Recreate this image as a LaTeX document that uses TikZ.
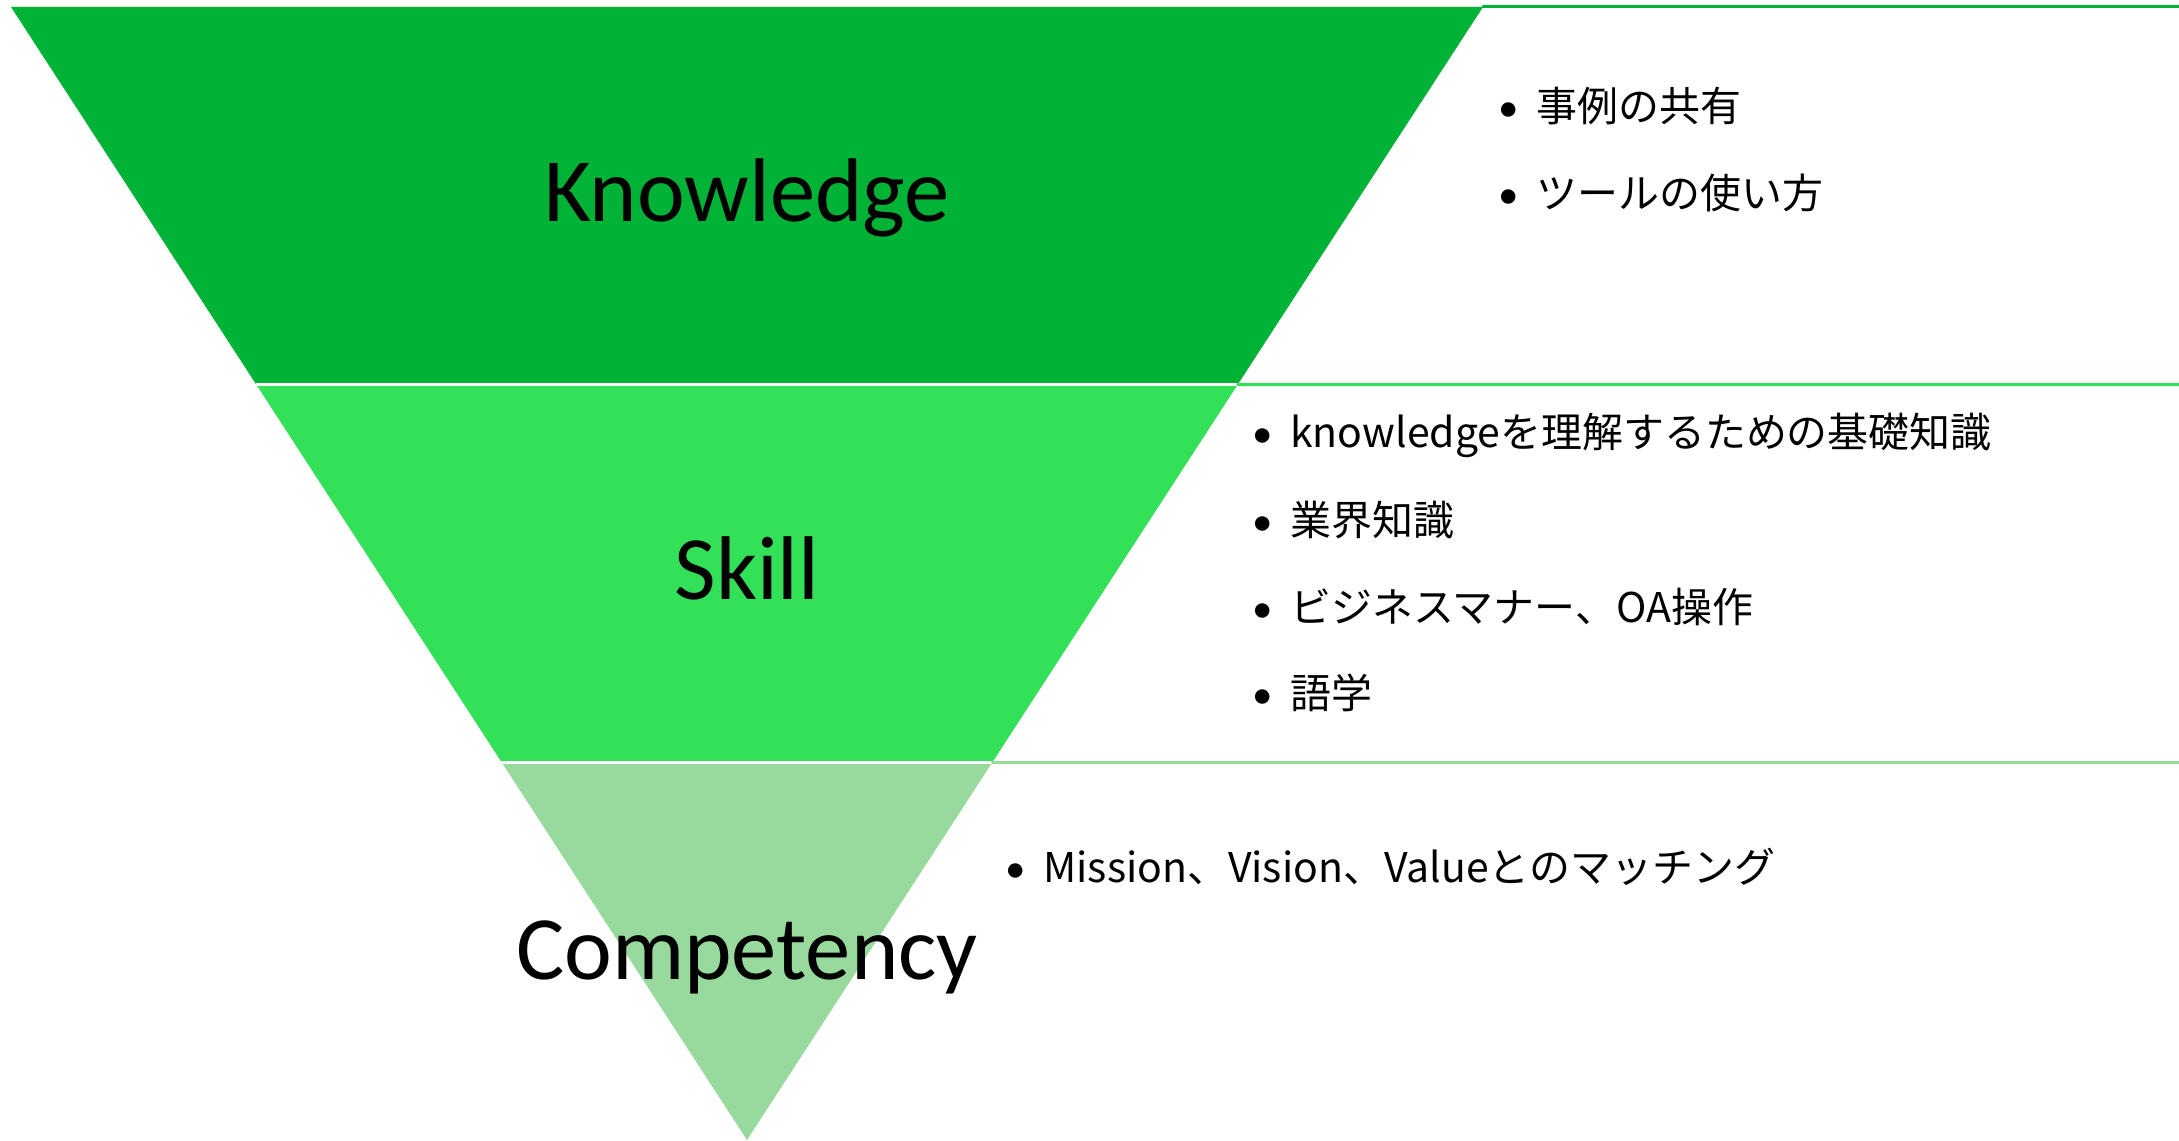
\documentclass[tikz,border=0pt]{standalone}
\usepackage{fontspec}
\setmainfont{Carlito}
\newfontfamily\jpfont{Noto Sans CJK JP}
\usepackage{tkz-euclide}
\definecolor{KnowClr}{RGB}{0,179,54}
\definecolor{SkillClr}{RGB}{51,225,88}
\definecolor{CompClr}{RGB}{152,217,157}
\tikzset{lvl/.style={anchor=base,inner sep=0pt,font=\fontsize{51.5}{62}\selectfont},
  itm/.style={anchor=base west,inner sep=0pt,font=\jpfont\fontsize{23.3}{28}\selectfont}}
\newcommand\bul{\makebox[0.76cm][l]{\rmfamily\textbullet}}

\begin{document}
\begin{tikzpicture}
\useasboundingbox (0,0) rectangle (43.58,22.8);
\fill[white] (0,0) rectangle (43.58,22.8);

\tkzDefPoints{14.94/0/A,0.22/22.66/B,29.66/22.66/C}
\tkzDefPointOnLine[pos=0.3333](B,A)\tkzGetPoint{D}
\tkzDefPointOnLine[pos=0.6667](B,A)\tkzGetPoint{E}
\tkzDefPointOnLine[pos=0.3333](C,A)\tkzGetPoint{F}
\tkzDefPointOnLine[pos=0.6667](C,A)\tkzGetPoint{G}
\tkzDefPoints{43.58/22.66/P,43.58/15.107/Q,43.58/7.553/R}

\tkzFillPolygon[fill=KnowClr](B,C,F,D)
\tkzFillPolygon[fill=SkillClr](D,F,G,E)
\tkzFillPolygon[fill=CompClr](E,G,A)

\tkzDrawSegments[color=white,line width=1.7pt](D,F E,G)

\tkzDrawSegments[color=KnowClr,line width=1.7pt](C,P)
\tkzDrawSegments[color=SkillClr,line width=1.7pt](F,Q)
\tkzDrawSegments[color=CompClr,line width=1.7pt](G,R)

\node[lvl] (know) at (14.94,18.36) {Knowledge};
\node[lvl] (skill) at (14.94,10.8) {Skill};
\node[lvl] (comp) at (14.94,3.2) {Competency};

\node[itm] (k1) at (29.96,20.36) {\bul 事例の共有};
\node[itm] (k2) at (29.96,18.62) {\bul ツールの使い方};

\node[itm] (s1) at (25.04,13.84) {\bul knowledgeを理解するための基礎知識};
\node[itm] (s2) at (25.04,12.08) {\bul 業界知識};
\node[itm] (s3) at (25.04,10.34) {\bul ビジネスマナー、OA操作};
\node[itm] (s4) at (25.04,8.62) {\bul 語学};

\node[itm] (c1) at (20.10,5.14) {\bul Mission、Vision、Valueとのマッチング};

\end{tikzpicture}
\end{document}
